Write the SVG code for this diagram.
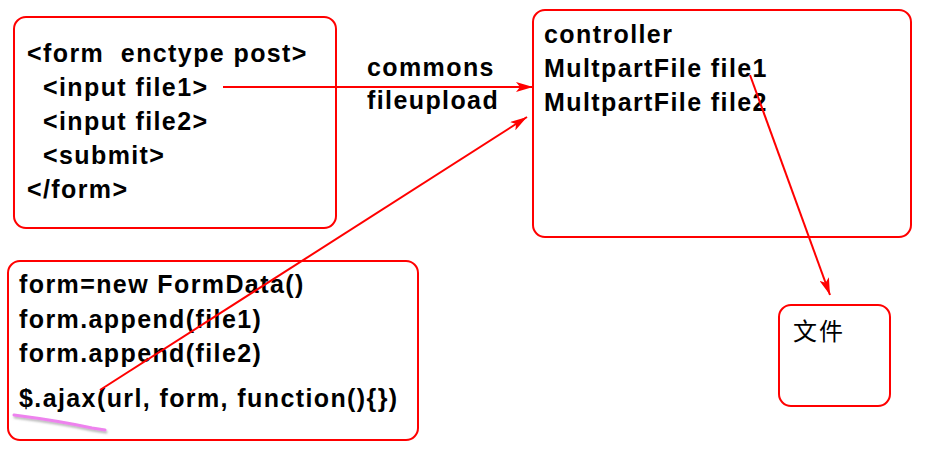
<svg xmlns="http://www.w3.org/2000/svg" width="946" height="449" viewBox="0 0 946 449">
<style>
.box{fill:#fff;stroke:#ff0000;stroke-width:2}
.t{font-family:"Liberation Sans",Arial,sans-serif;font-weight:bold;font-size:25px;letter-spacing:1.4px;fill:#000;white-space:pre}
.cjk{font-family:"Noto Sans CJK SC",sans-serif;font-size:24px;letter-spacing:2px;fill:#000}
.c{stroke:#ff0000;stroke-width:2;fill:none}
</style>
<defs>
<marker id="ah" viewBox="0 0 17 10" refX="17" refY="5" markerWidth="17" markerHeight="10" markerUnits="userSpaceOnUse" orient="auto">
<path d="M0,0 L17,5 L0,10 L4,5 z" fill="#ff0000"/>
</marker>
<filter id="sh" x="-10%" y="-100%" width="130%" height="400%"><feDropShadow dx="1" dy="2" stdDeviation="1" flood-color="#888" flood-opacity="0.6"/></filter>
</defs>
<rect width="946" height="449" fill="#fff"/>
<g id="form-html">
<rect class="box" x="14" y="17" width="322" height="211" rx="12"/>
<text class="t" x="27" y="62" xml:space="preserve">&lt;form  enctype post&gt;</text>
<text class="t" x="43" y="96">&lt;input file1&gt;</text>
<text class="t" x="43" y="130">&lt;input file2&gt;</text>
<text class="t" x="43" y="164">&lt;submit&gt;</text>
<text class="t" x="27" y="198">&lt;/form&gt;</text>
</g>
<g id="controller">
<rect class="box" x="533" y="10" width="378" height="227" rx="12"/>
<text class="t" x="544" y="43">controller</text>
<text class="t" x="544" y="77">MultpartFile file1</text>
<text class="t" x="544" y="111">MultpartFile file2</text>
</g>
<g id="formdata">
<rect class="box" x="8" y="261" width="410" height="179" rx="12"/>
<text class="t" x="19" y="293">form=new FormData()</text>
<text class="t" x="19" y="328">form.append(file1)</text>
<text class="t" x="19" y="362">form.append(file2)</text>
<text class="t" x="19" y="407">$.ajax(url, form, function(){})</text>
<path d="M14,415 Q60,421 92,428 L105,430" stroke="#ee82ee" stroke-width="3" fill="none" stroke-linecap="round" filter="url(#sh)"/>
</g>
<g id="file">
<rect class="box" x="779" y="305" width="111" height="101" rx="12"/>
<text class="cjk" x="793" y="340">文件</text>
</g>
<g id="label">
<text class="t" x="367" y="76">commons</text>
<text class="t" x="367" y="109">fileupload</text>
</g>
<g id="connectors">
<line class="c" x1="223" y1="87" x2="533" y2="87" marker-end="url(#ah)"/>
<line class="c" x1="100" y1="390" x2="527" y2="117" marker-end="url(#ah)"/>
<line class="c" x1="750" y1="75" x2="830" y2="295" marker-end="url(#ah)"/>
</g>
</svg>
